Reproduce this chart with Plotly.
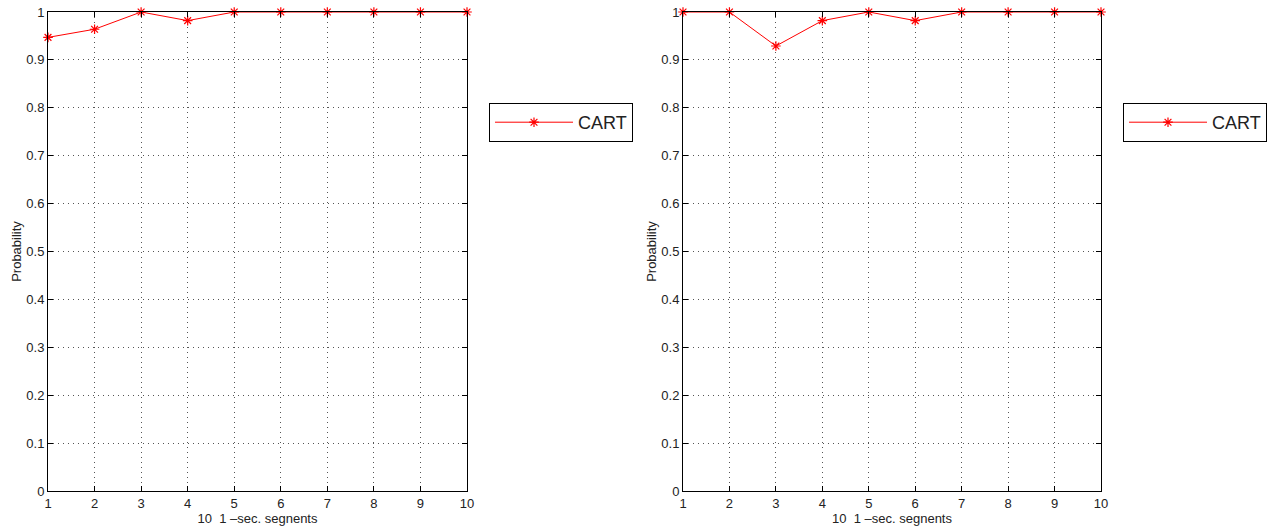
import plotly.graph_objects as go

segments = [1, 2, 3, 4, 5, 6, 7, 8, 9, 10]
left_prob = [0.947, 0.964, 1.0, 0.982, 1.0, 1.0, 1.0, 1.0, 1.0, 1.0]
right_prob = [1.0, 1.0, 0.929, 0.982, 1.0, 0.982, 1.0, 1.0, 1.0, 1.0]
series_name = "CART"
x_title = "10  1 \u2013sec. segnents"
y_title = "Probability"

W, H = 1268, 529
FONT = "Liberation Sans, Arial, Helvetica, sans-serif"

fig = go.Figure()
trace_style = dict(mode="lines+markers", cliponaxis=False,
                   line=dict(color="#ff0000", width=1),
                   marker=dict(symbol="asterisk-open", size=8,
                               line=dict(color="#ff0000", width=1.2)))
fig.add_trace(go.Scatter(x=segments, y=left_prob, name=series_name,
                         xaxis="x", yaxis="y", legend="legend", **trace_style))
fig.add_trace(go.Scatter(x=segments, y=right_prob, name=series_name,
                         xaxis="x2", yaxis="y2", legend="legend2", **trace_style))

ydom = [1 - 491 / H, 1 - 12 / H]
xdom1 = [48 / W, 467 / W]
xdom2 = [683 / W, 1101 / W]

GRID = dict(showgrid=True, gridcolor="#555", griddash="1px,4px", gridwidth=1)
TF = dict(size=13, color="#222", family=FONT)

def xaxis(dom, anchor):
    return dict(domain=dom, anchor=anchor, range=[1, 10], tickmode="array",
                tickvals=segments, ticks="inside", ticklen=5, tickcolor="black",
                showline=True, linecolor="black", linewidth=1, mirror="ticks",
                zeroline=False, tickfont=TF,
                title=dict(text=x_title, standoff=4, font=TF),
                **GRID)

def yaxis(anchor):
    return dict(domain=ydom, anchor=anchor, range=[0, 1], dtick=0.1, tick0=0,
                ticks="inside", ticklen=5, tickcolor="black",
                showline=True, linecolor="black", linewidth=1, mirror="ticks",
                zeroline=False, tickfont=TF,
                title=dict(text=y_title, standoff=1, font=TF),
                **GRID)

legend_style = dict(bordercolor="black", borderwidth=1, bgcolor="white",
                    xanchor="left", yanchor="top", y=1 - 103 / H,
                    font=dict(size=18, color="#222", family=FONT),
                    itemwidth=78)

fig.update_layout(
    width=W, height=H,
    margin=dict(l=0, r=0, t=0, b=0, autoexpand=False),
    paper_bgcolor="white", plot_bgcolor="white",
    showlegend=True,
    xaxis=xaxis(xdom1, "y"), yaxis=yaxis("x"),
    xaxis2=xaxis(xdom2, "y2"), yaxis2=yaxis("x2"),
    legend=dict(x=489 / W, **legend_style),
    legend2=dict(x=1123 / W, **legend_style),
)

fig.write_html("out.html", config={"displayModeBar": False},
               post_script="document.body.style.margin='0px';document.body.style.overflow='hidden';")
